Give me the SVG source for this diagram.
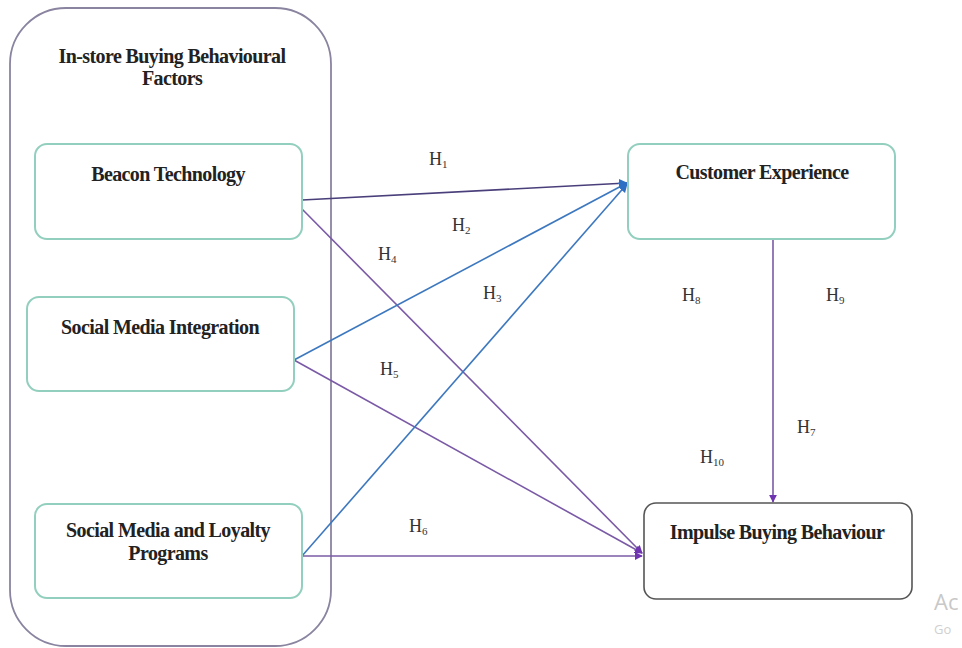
<svg xmlns="http://www.w3.org/2000/svg" width="962" height="648" viewBox="0 0 962 648">
<defs>
<style>
.t{font-family:'Liberation Serif','DejaVu Serif',serif;font-weight:bold;font-size:20px;fill:#222;text-anchor:middle;letter-spacing:-0.6px}
.h{font-family:'Liberation Serif','DejaVu Serif',serif;font-size:18px;fill:#333}
.s{font-size:11px}
.g{fill:#fff;stroke:#93cfbe;stroke-width:2}
.pu{stroke:#7a5aa6;stroke-width:1.6;fill:none}
.bl{stroke:#3d78bf;stroke-width:1.6;fill:none}
.pu2{stroke:#4a3f7a;stroke-width:1.6;fill:none}
</style>
<marker id="ap" viewBox="0 0 10 10" refX="9" refY="5" markerWidth="8" markerHeight="8" markerUnits="userSpaceOnUse" orient="auto"><path d="M0,0 L10,5 L0,10 z" fill="#6f34b0"/></marker>
<marker id="ab" viewBox="0 0 10 10" refX="9" refY="5" markerWidth="9" markerHeight="9" markerUnits="userSpaceOnUse" orient="auto"><path d="M0,0 L10,5 L0,10 z" fill="#2e6fc4"/></marker>
</defs>
<rect width="962" height="648" fill="#fff"/>
<g id="container">
<rect x="10" y="8" width="321" height="638" rx="56" ry="56" fill="#fff" stroke="#8a84a0" stroke-width="1.8"/>
<text class="t" x="172" y="63" font-family="Liberation Serif, serif">In-store Buying Behavioural</text>
<text class="t" x="172" y="85" font-family="Liberation Serif, serif">Factors</text>
</g>
<g id="connectors">
<line class="pu2" x1="302" y1="200" x2="627" y2="183" marker-end="url(#ab)"/>
<line class="pu" x1="302" y1="209" x2="642" y2="553" marker-end="url(#ap)"/>
<line class="bl" x1="294" y1="360" x2="627" y2="183" marker-end="url(#ab)"/>
<line class="pu" x1="294" y1="360" x2="642" y2="553" marker-end="url(#ap)"/>
<line class="bl" x1="302" y1="556" x2="627" y2="184" marker-end="url(#ab)"/>
<line class="pu" x1="302" y1="556" x2="642" y2="556" marker-end="url(#ap)"/>
<line class="pu" x1="773" y1="239" x2="773" y2="502" marker-end="url(#ap)"/>
</g>
<g id="beacon">
<rect class="g" x="35" y="144" width="267" height="95" rx="12"/>
<text class="t" x="168" y="181" font-family="Liberation Serif, serif">Beacon Technology</text>
</g>
<g id="smi">
<rect class="g" x="27" y="297" width="267" height="94" rx="12"/>
<text class="t" x="160" y="334" font-family="Liberation Serif, serif">Social Media Integration</text>
</g>
<g id="smlp">
<rect class="g" x="35" y="504" width="267" height="94" rx="12"/>
<text class="t" x="168" y="537" font-family="Liberation Serif, serif">Social Media and Loyalty</text>
<text class="t" x="168" y="560" font-family="Liberation Serif, serif">Programs</text>
</g>
<g id="ce">
<rect class="g" x="628" y="144" width="267" height="95" rx="12"/>
<text class="t" x="762" y="179" font-family="Liberation Serif, serif">Customer Experience</text>
</g>
<g id="ibb">
<rect x="644" y="503" width="268" height="96" rx="12" fill="#fff" stroke="#555" stroke-width="1.6"/>
<text class="t" x="777" y="539" font-family="Liberation Serif, serif">Impulse Buying Behaviour</text>
</g>
<g id="labels" font-family="Liberation Serif, serif">
<text class="h" x="429" y="165">H<tspan class="s" dy="3">1</tspan></text>
<text class="h" x="452" y="231">H<tspan class="s" dy="3">2</tspan></text>
<text class="h" x="378" y="260">H<tspan class="s" dy="3">4</tspan></text>
<text class="h" x="483" y="299">H<tspan class="s" dy="3">3</tspan></text>
<text class="h" x="380" y="375">H<tspan class="s" dy="3">5</tspan></text>
<text class="h" x="409" y="532">H<tspan class="s" dy="3">6</tspan></text>
<text class="h" x="682" y="301">H<tspan class="s" dy="3">8</tspan></text>
<text class="h" x="826" y="301">H<tspan class="s" dy="3">9</tspan></text>
<text class="h" x="797" y="433">H<tspan class="s" dy="3">7</tspan></text>
<text class="h" x="700" y="463">H<tspan class="s" dy="3">10</tspan></text>
</g>
<g id="watermark">
<text x="934" y="610" font-family="Open Sans, Liberation Sans, sans-serif" font-size="22" fill="#c8c8c8">Ac</text>
<text x="934" y="634" font-family="Open Sans, Liberation Sans, sans-serif" font-size="13" fill="#d0d0d0">Go</text>
</g>
</svg>
